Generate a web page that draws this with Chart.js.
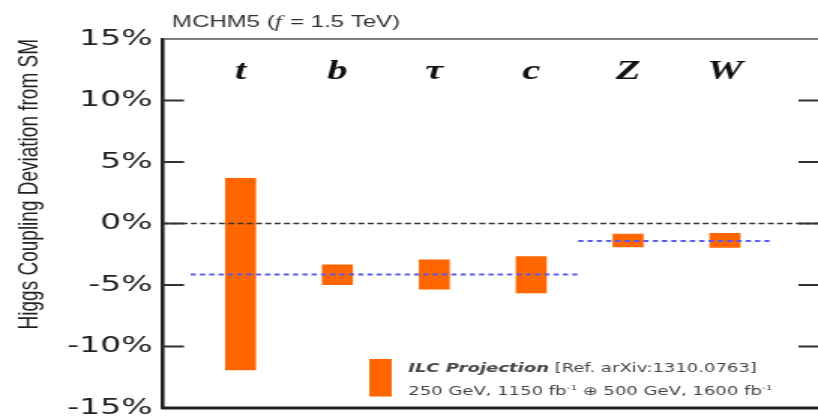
<!DOCTYPE html>
<html>
<head>
<meta charset="utf-8">
<script src="https://cdn.jsdelivr.net/npm/chart.js@4/dist/chart.umd.min.js"></script>
<style>
html, body { margin: 0; padding: 0; background: #fff; overflow: hidden; }
/* the original figure is stretched sideways, so the canvas is too */
#chart { display: block; transform: scaleX(1.50092); transform-origin: 0 0; }
</style>
</head>
<body>
<canvas id="chart" width="545" height="418"></canvas>
<script>
// couplings and their place along the x axis
const couplings = ['t', 'b', 'τ', 'c', 'Z', 'W'];
const positions = [1, 2, 3, 4, 5, 6];

// ILC projection band for each coupling, in %
const bandLow  = [-11.9, -4.97, -5.33, -5.65, -1.9, -1.95];
const bandHigh = [3.67, -3.35, -2.95, -2.68, -0.85, -0.8];

// MCHM5 prediction (blue dashed lines): value and x extent
const fermionShift = -4.14;
const fermionSpan = [0.485, 4.485];
const bosonShift = -1.43;
const bosonSpan = [4.485, 6.46];

const yTicks = [-15, -10, -5, 0, 5, 10, 15];
const xRange = [0.2, 6.96];

Chart.defaults.font.family = '"Liberation Sans", Arial, sans-serif';

// frame, inward ticks, coupling names, title and legend
const decorations = {
  id: 'decorations',
  afterDraw(chart) {
    const {ctx, chartArea: a, scales: {x, y}} = chart;
    ctx.save();

    ctx.strokeStyle = '#555';
    ctx.lineWidth = 1.5;
    ctx.beginPath();
    ctx.moveTo(a.left, a.top);
    ctx.lineTo(a.right, a.top);
    ctx.stroke();
    ctx.strokeStyle = '#222';
    ctx.lineWidth = 3;
    ctx.beginPath();
    ctx.moveTo(a.left - 1, a.bottom);
    ctx.lineTo(a.right, a.bottom);
    ctx.stroke();

    ctx.strokeStyle = '#333';
    ctx.lineWidth = 1.8;
    y.ticks.forEach(t => {
      if (t.value <= y.min || t.value >= y.max) return;
      const py = y.getPixelForValue(t.value);
      ctx.beginPath();
      ctx.moveTo(a.left, py);
      ctx.lineTo(a.left + 14, py);
      ctx.moveTo(a.right - 13, py);
      ctx.lineTo(a.right, py);
      ctx.stroke();
    });

    ctx.fillStyle = '#111';
    ctx.font = 'italic bold 27px "Liberation Serif"';
    ctx.textAlign = 'center';
    ctx.textBaseline = 'alphabetic';
    couplings.forEach((c, i) => {
      ctx.fillText(c, x.getPixelForValue(positions[i]), a.top + 40);
    });

    // title with italic f
    ctx.textAlign = 'left';
    ctx.fillStyle = '#333';
    let tx = a.left + 6;
    const ty = a.top - 12;
    ctx.font = '16px "Liberation Sans"';
    ctx.fillText('MCHM5 (', tx, ty);
    tx += ctx.measureText('MCHM5 (').width;
    ctx.font = 'italic 17px "Liberation Serif"';
    ctx.fillText('f', tx, ty);
    tx += ctx.measureText('f').width + 1;
    ctx.font = '16px "Liberation Sans"';
    ctx.fillText(' = 1.5 TeV)', tx, ty);

    // legend
    const lx = 246, ly = 359;
    ctx.fillStyle = '#ff6600';
    ctx.fillRect(lx, ly, 15, 37.5);
    ctx.fillStyle = '#444';
    let px = lx + 26;
    ctx.font = 'italic bold 12px "DejaVu Sans"';
    ctx.fillText('ILC Projection', px, ly + 13);
    px += ctx.measureText('ILC Projection').width;
    ctx.font = '12px "DejaVu Sans"';
    ctx.fillText(' [Ref. arXiv:1310.0763]', px, ly + 13);

    const parts = [['250 GeV, 1150 fb', false], ['-1', true], [' \u2295 500 GeV, 1600 fb', false], ['-1', true]];
    px = lx + 26;
    parts.forEach(([txt, sup]) => {
      ctx.font = sup ? '7px "DejaVu Sans"' : '12px "DejaVu Sans"';
      ctx.fillText(txt, px, ly + 36 - (sup ? 5 : 0));
      px += ctx.measureText(txt).width;
    });

    ctx.restore();
  }
};

new Chart(document.getElementById('chart'), {
  type: 'bar',
  data: {
    datasets: [
      {
        label: 'ILC Projection',
        data: positions.map((p, i) => ({x: p, y: [bandLow[i], bandHigh[i]]})),
        backgroundColor: '#ff6600',
        borderWidth: 0,
        barThickness: 20,
        order: 2
      },
      {
        type: 'line',
        label: 'SM',
        data: [{x: xRange[0], y: 0}, {x: xRange[1], y: 0}],
        borderColor: '#333',
        borderWidth: 1.6,
        borderDash: [4, 2.2],
        pointRadius: 0,
        order: 1
      },
      {
        type: 'line',
        label: 'fermions',
        data: [{x: fermionSpan[0], y: fermionShift}, {x: fermionSpan[1], y: fermionShift}],
        borderColor: '#5a5af0',
        borderWidth: 2,
        borderDash: [3.5, 2.7],
        pointRadius: 0,
        order: 0
      },
      {
        type: 'line',
        label: 'bosons',
        data: [{x: bosonSpan[0], y: bosonShift}, {x: bosonSpan[1], y: bosonShift}],
        borderColor: '#5a5af0',
        borderWidth: 2,
        borderDash: [3.5, 2.7],
        pointRadius: 0,
        order: 0
      }
    ]
  },
  options: {
    responsive: false,
    devicePixelRatio: 1,
    animation: false,
    layout: {padding: {top: 39, bottom: 10, left: 0, right: 0}},
    plugins: {legend: {display: false}, tooltip: {enabled: false}},
    scales: {
      x: {
        type: 'linear',
        display: false,
        min: xRange[0],
        max: xRange[1],
        offset: false
      },
      y: {
        min: -15,
        max: 15,
        afterBuildTicks: s => { s.ticks = yTicks.map(v => ({value: v})); },
        afterFit: s => {
          s.width = 108.6;
          // let the end labels hang over the frame, like the original
          s.paddingTop = 0;
          s.paddingBottom = 0;
        },
        grid: {display: false, drawTicks: false},
        border: {display: true, width: 2.6, color: '#222'},
        ticks: {
          callback: v => v + '%',
          font: {family: '"DejaVu Sans"', size: 22},
          color: '#222',
          padding: 7
        },
        title: {
          display: true,
          text: 'Higgs Coupling Deviation from SM',
          align: 'end',
          font: {size: 19},
          color: '#222',
          padding: {top: 8, bottom: 0}
        }
      }
    }
  },
  plugins: [decorations]
});
</script>
</body>
</html>
